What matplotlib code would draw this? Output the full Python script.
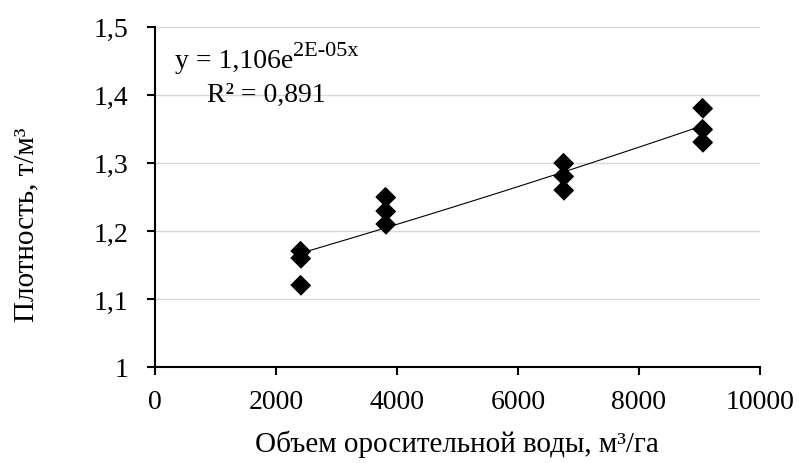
import matplotlib
matplotlib.use("Agg")
import matplotlib.pyplot as plt
import numpy as np

# irrigation volume, m3/ha and soil density, t/m3
water = [2400, 2400, 2400, 3800, 3800, 3800, 6750, 6750, 6750, 9050, 9050, 9050]
density = [1.17, 1.16, 1.12, 1.25, 1.23, 1.21, 1.30, 1.28, 1.26, 1.38, 1.35, 1.33]

x_ticks = [0, 2000, 4000, 6000, 8000, 10000]
y_ticks = [1.0, 1.1, 1.2, 1.3, 1.4, 1.5]
y_tick_labels = ["1", "1,1", "1,2", "1,3", "1,4", "1,5"]

eq_text = "y = 1,106e"
eq_power = "2E-05x"
r2_text = "R² = 0,891"

plt.rcParams["font.family"] = ["Liberation Serif", "DejaVu Serif"]

fig = plt.figure(figsize=(7.99, 4.64), dpi=100)
ax = fig.add_axes([0.194, 0.207, 0.757, 0.733])

# exponential trend line, fitted on the data like Excel does
xs = np.array(water, dtype=float)
ys = np.array(density, dtype=float)
b, ln_a = np.polyfit(xs, np.log(ys), 1)
xt = np.linspace(xs.min(), xs.max(), 100)
ax.plot(xt, np.exp(ln_a) * np.exp(b * xt), color="black", lw=0.8, zorder=2)

diamond = [(-1, 0), (0, 1), (1, 0), (0, -1)]
ax.plot(water, density, linestyle="none", marker=diamond, markersize=14,
        color="black", zorder=3)

ax.set_xlim(0, 10000)
ax.set_ylim(1.0, 1.5)
ax.set_xticks(x_ticks)
ax.set_yticks(y_ticks)
ax.set_yticklabels(y_tick_labels)
ax.tick_params(axis="both", labelsize=20, width=1.5, length=6, direction="out")
ax.tick_params(axis="x", pad=10)
ax.tick_params(axis="y", pad=13)

ax.grid(axis="y", color="#d9d9d9", lw=1)
ax.set_axisbelow(True)
for side in ["top", "right"]:
    ax.spines[side].set_visible(False)
for side in ["left", "bottom"]:
    ax.spines[side].set_linewidth(1.5)

ax.set_xlabel("Объем оросительной воды, м³/га", fontsize=21, va="top")
ax.set_ylabel("Плотность, т/м³", fontsize=21, va="center")
ax.xaxis.set_label_coords(0.5, -0.185)
ax.yaxis.set_label_coords(-0.212, 0.42)

# equation label
t = ax.text(0.033, 0.9, eq_text, transform=ax.transAxes, fontsize=20,
            va="center", ha="left")
ax.annotate(eq_power, xy=(1.0, 0.55), xycoords=t, fontsize=16,
            va="bottom", ha="left")
ax.text(0.086, 0.80, r2_text, transform=ax.transAxes, fontsize=20,
        va="center", ha="left")

plt.savefig("out.png", dpi=100)
